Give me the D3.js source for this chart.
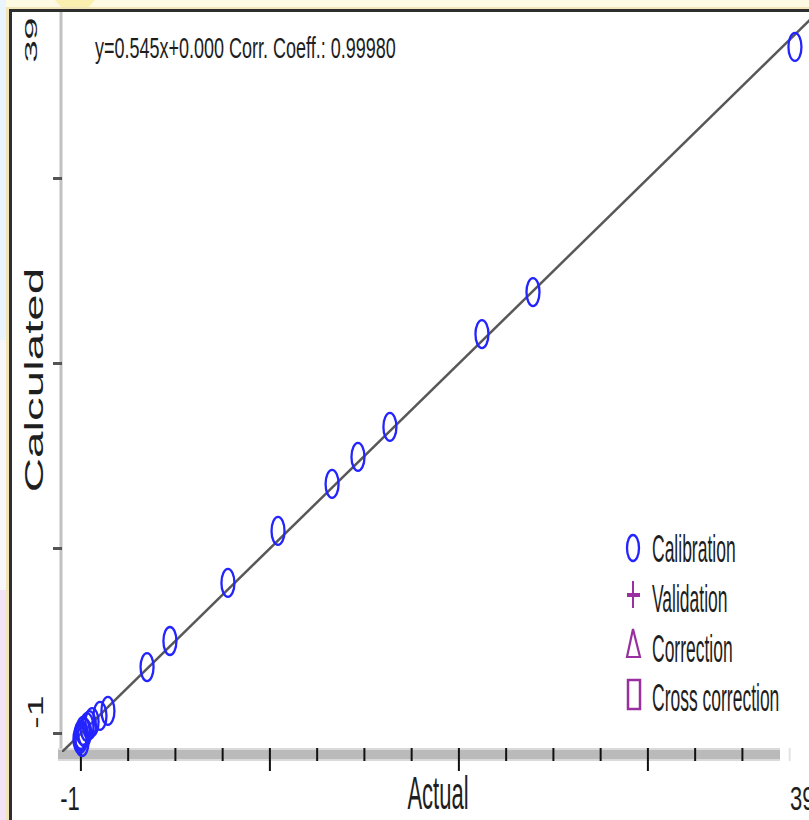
<!DOCTYPE html>
<html lang="en">
<head>
<meta charset="UTF-8">
<title>Actual vs Calculated</title>
<script src="https://cdn.jsdelivr.net/npm/d3@7"></script>
<style>
  body { margin: 0; background: #fff; }
  svg { display: block; }
  text { font-family: "Liberation Sans", Arial, sans-serif; fill: #1e1e1e; }
</style>
</head>
<body>
<div id="chart"></div>
<script>
// ---- data ----
var actual     = [0.0, -0.05, 0.06, 0.02, 0.11, 0.2, 0.32, 0.45, 0.59, 1.01, 1.43, 3.50, 4.71, 7.78, 10.43, 13.29, 14.66, 16.35, 21.22, 23.92, 37.78];
var calculated = [-0.08, -0.30, -0.46, -0.2, 0.14, 0.05, 0.35, 0.45, 0.62, 0.95, 1.22, 3.59, 5.00, 8.14, 10.95, 13.49, 14.95, 16.57, 21.59, 23.86, 37.11];
var fitLine = [[-1, -1], [39, 39]];
var xTicks = [0, 2.5, 5, 7.5, 10, 12.5, 15, 17.5, 20, 22.5, 25, 27.5, 30, 32.5, 35, 37.5];
var yTicks = [0, 10, 20, 30];
var axisMin = "-1", axisMax = "39";
var equation = "y=0.545x+0.000 Corr. Coeff.: 0.99980";
var legendNames = ["Calibration", "Validation", "Correction", "Cross correction"];

var W = 809, H = 820;
var svg = d3.select("#chart").append("svg").attr("width", W).attr("height", H);

// scales: -1..39 on both axes
var x = d3.scaleLinear().domain([-1, 39]).range([62, 818]);
var y = d3.scaleLinear().domain([-1, 39]).range([752, 12]);

// window chrome around the plot
svg.append("rect").attr("x", 0).attr("y", 0).attr("width", W).attr("height", 9).attr("fill", "#fdf9e2");
svg.append("path").attr("d", "M55,0 L95,0 L88,8 L62,8 Z").attr("fill", "#fbefb0");
svg.append("rect").attr("x", 0).attr("y", 0).attr("width", 6).attr("height", 340).attr("fill", "#e9f4fc");
svg.append("rect").attr("x", 0).attr("y", 340).attr("width", 6).attr("height", 250).attr("fill", "#f8f8fb");
svg.append("rect").attr("x", 0).attr("y", 590).attr("width", 6).attr("height", 230).attr("fill", "#f2e3f8");
svg.append("rect").attr("x", 6).attr("y", 7).attr("width", 3).attr("height", 813).attr("fill", "#f1e4b8");
svg.append("rect").attr("x", 6).attr("y", 7).attr("width", 803).attr("height", 2).attr("fill", "#f1e4b8");
svg.append("rect").attr("x", 9).attr("y", 9).attr("width", 800).attr("height", 3).attr("fill", "#2e2e2e");
svg.append("rect").attr("x", 9).attr("y", 9).attr("width", 3).attr("height", 811).attr("fill", "#2e2e2e");

// stretched text helper (the reference is squeezed horizontally)
function stretchText(str, px, py, size, s, anchor, rotated) {
  var t = svg.append("text")
    .attr("font-size", size)
    .attr("text-anchor", anchor)
    .text(str);
  if (rotated) t.attr("transform", "translate(" + px + "," + py + ") rotate(-90) scale(" + s + ",1)");
  else t.attr("transform", "translate(" + px + "," + py + ") scale(1," + s + ")");
  return t;
}

// left axis line and y ticks
svg.append("line").attr("x1", 61).attr("x2", 61).attr("y1", 12).attr("y2", 752)
  .attr("stroke", "#c2c2c2").attr("stroke-width", 3);
svg.selectAll(".ytick").data(yTicks).enter().append("line")
  .attr("class", "ytick")
  .attr("x1", 53).attr("x2", 62)
  .attr("y1", function(d) { return y(d); }).attr("y2", function(d) { return y(d); })
  .attr("stroke", "#555").attr("stroke-width", 3);

// bottom axis band and x ticks
svg.append("rect").attr("x", 58).attr("y", 748).attr("width", 722).attr("height", 13).attr("fill", "#dadada");
svg.append("rect").attr("x", 58).attr("y", 750).attr("width", 722).attr("height", 9).attr("fill", "#bababa");
svg.selectAll(".xtick").data(xTicks).enter().append("line")
  .attr("class", "xtick")
  .attr("x1", function(d) { return x(d); }).attr("x2", function(d) { return x(d); })
  .attr("y1", 748)
  .attr("y2", function(d) { return d % 10 === 0 ? 771 : 761; })
  .attr("stroke", function(d) { return d > 36 ? "#e2e2e2" : "#111"; })
  .attr("stroke-width", 2);

// axis labels
stretchText(axisMin, 70, 810, 22, 1.55, "middle", false);
stretchText(axisMax, 790, 810, 22, 1.55, "start", false);
stretchText("Actual", 438, 809, 22, 2.1, "middle", false);
stretchText(axisMax, 37, 40, 17, 2.4, "middle", true);
stretchText(axisMin, 43, 712, 22, 1.7, "middle", true);
stretchText("Calculated", 43, 380, 25, 1.9, "middle", true).attr("fill", "#333");

// equation
stretchText(equation, 95, 58, 18, 1.65, "start", false);

// plot content, clipped to the plot box
svg.append("clipPath").attr("id", "plotclip").append("rect")
  .attr("x", 62).attr("y", 12).attr("width", W - 62).attr("height", 740);
var plot = svg.append("g").attr("clip-path", "url(#plotclip)");

plot.append("line")
  .attr("x1", x(fitLine[0][0])).attr("y1", y(fitLine[0][1]))
  .attr("x2", x(fitLine[1][0])).attr("y2", y(fitLine[1][1]))
  .attr("stroke", "#585858").attr("stroke-width", 2.5);

var points = actual.map(function(a, i) { return { a: a, c: calculated[i] }; });
svg.selectAll(".pt").data(points).enter().append("ellipse")
  .attr("class", "pt")
  .attr("cx", function(d) { return x(d.a); })
  .attr("cy", function(d) { return y(d.c); })
  .attr("rx", 6.5).attr("ry", 14)
  .attr("fill", "none")
  .attr("stroke", "#2424ff").attr("stroke-width", 2.3);

// legend
var purple = "#9a309f";
var legY = [548, 598, 648, 697];
var leg = svg.append("g");
leg.append("ellipse").attr("cx", 633).attr("cy", legY[0]).attr("rx", 6).attr("ry", 13)
  .attr("fill", "none").attr("stroke", "#2424ff").attr("stroke-width", 2.3);
leg.append("line").attr("x1", 633).attr("x2", 633).attr("y1", legY[1] - 17).attr("y2", legY[1] + 10)
  .attr("stroke", purple).attr("stroke-width", 2);
leg.append("line").attr("x1", 627).attr("x2", 640).attr("y1", legY[1] - 3).attr("y2", legY[1] - 3)
  .attr("stroke", purple).attr("stroke-width", 4);
leg.append("path")
  .attr("d", "M633," + (legY[2] - 19) + " L640," + (legY[2] + 9) + " L627," + (legY[2] + 9) + " Z")
  .attr("fill", "none").attr("stroke", purple).attr("stroke-width", 2.2);
leg.append("rect").attr("x", 628).attr("y", legY[3] - 17).attr("width", 12).attr("height", 29)
  .attr("fill", "none").attr("stroke", purple).attr("stroke-width", 2.5);
legendNames.forEach(function(n, i) {
  stretchText(n, 652, legY[i] + 14, 17.5, 2.2, "start", false);
});
</script>
</body>
</html>
